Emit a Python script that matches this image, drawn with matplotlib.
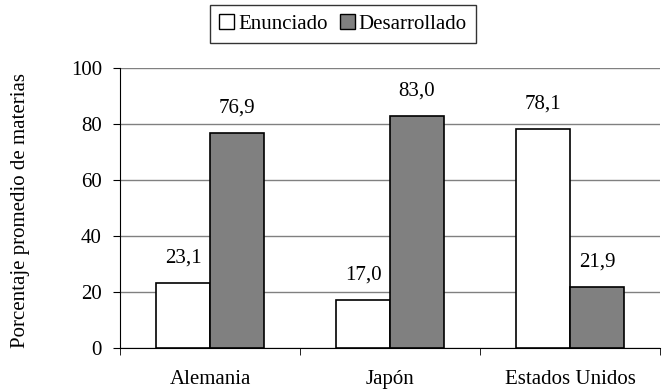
import numpy as np
import matplotlib.pyplot as plt
from matplotlib.patches import Patch

# datos: porcentaje promedio de materias por país
paises = ['Alemania', 'Japón', 'Estados Unidos']
enunciado = [23.1, 17.0, 78.1]
desarrollado = [76.9, 83.0, 21.9]

plt.rcParams['font.family'] = ['Liberation Serif', 'DejaVu Serif']
plt.rcParams['font.size'] = 15

fig = plt.figure(figsize=(6.62, 3.90), dpi=100)
ax = fig.add_axes([120 / 662, 42 / 390, 540 / 662, 280 / 390])

x = np.arange(len(paises))
w = 0.3
b1 = ax.bar(x - w / 2, enunciado, w, color='white', edgecolor='black', linewidth=1.2, zorder=3)
b2 = ax.bar(x + w / 2, desarrollado, w, color='#808080', edgecolor='black', linewidth=1.2, zorder=3)

def etiquetas(barras, vals):
    for r, v in zip(barras, vals):
        ax.text(r.get_x() + r.get_width() / 2, v + 7.3, f'{v:.1f}'.replace('.', ','),
                ha='center', va='baseline')

etiquetas(b1, enunciado)
etiquetas(b2, desarrollado)

ax.set_xlim(-0.5, 2.5)
ax.set_ylim(0, 100)
ax.set_yticks(range(0, 101, 20))
ax.set_xticks(x)
ax.set_xticklabels(paises)
ax.set_xticks([-0.5, 0.5, 1.5, 2.5], minor=True)
ax.tick_params(axis='x', which='major', length=0, pad=16)
ax.tick_params(axis='x', which='minor', length=5, direction='out')
ax.tick_params(axis='y', length=5, direction='out', pad=8)
ax.grid(axis='y', color='#808080', linewidth=1, zorder=0)
ax.spines['top'].set_visible(False)
ax.spines['right'].set_visible(False)
ax.spines['left'].set_color('black')
ax.spines['bottom'].set_color('black')

ax.set_ylabel('Porcentaje promedio de materias')
ax.yaxis.set_label_coords(-90 / 540, 0.49)

handles = [Patch(facecolor='white', edgecolor='black'),
           Patch(facecolor='#808080', edgecolor='black')]
fig.legend(handles, ['Enunciado', 'Desarrollado'], loc='center',
           bbox_to_anchor=(343 / 662, 1 - 24 / 390), ncol=2, frameon=True,
           fancybox=False, edgecolor='black', handlelength=0.7, handleheight=0.7,
           handletextpad=0.2, columnspacing=0.6, borderpad=0.45)

fig.savefig('out.png', dpi=100)
